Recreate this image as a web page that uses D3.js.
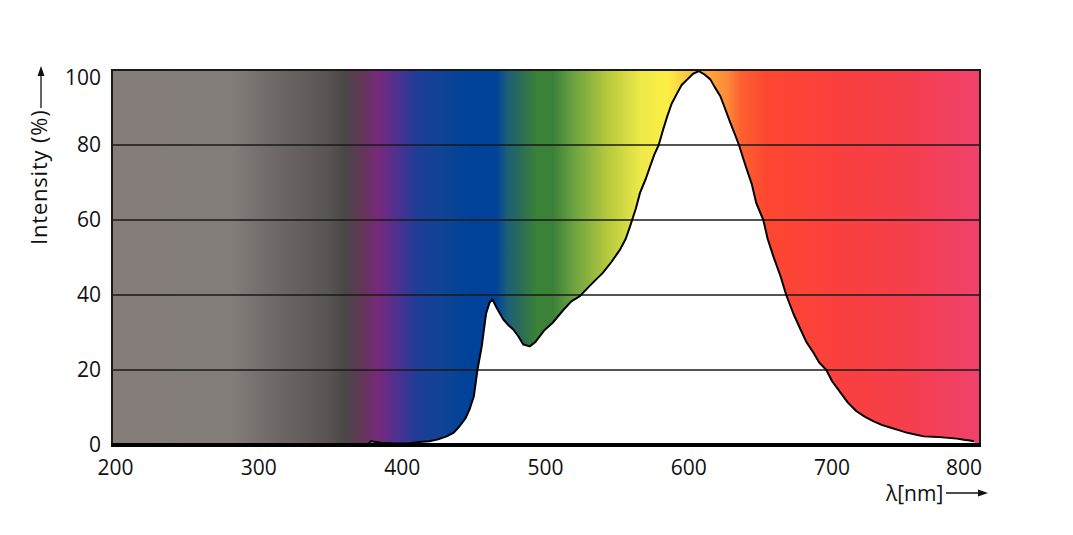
<!DOCTYPE html>
<html>
<head>
<meta charset="utf-8">
<script src="https://cdn.jsdelivr.net/npm/d3@7"></script>
<style>
  body { margin: 0; background: #fff; }
  svg text { font-family: 'Open Sans', sans-serif; fill: #111; }
</style>
</head>
<body>
<svg id="canvas" width="1073" height="535"></svg>
<script>
// spectrum (nm, % intensity)
const wavelengths = [376, 378, 385, 395, 405, 412, 419, 425, 431, 436, 440, 444, 447, 450, 452.5, 455.5, 458.5, 461, 463, 466, 470.5, 474, 477.5, 481, 484.5, 489, 493, 499, 505, 512, 518, 524, 531, 540, 546, 552, 556, 559, 563, 566, 570, 573, 576, 579, 582, 585, 588, 592, 595, 599, 603, 607, 611, 615, 618, 622, 625, 629, 632, 635, 640, 644, 647, 652, 655, 659, 664, 668, 673, 678, 682, 687, 691, 696, 700, 706, 711, 717, 723, 729, 735, 741, 747, 752, 758, 764, 770, 775, 781, 787, 792, 796, 799, 800];
const intensity = [0, 1.0, 0.6, 0.4, 0.5, 0.8, 1.0, 1.5, 2.3, 3.3, 5.0, 7.0, 9.5, 13, 20, 26.3, 35, 38, 38.8, 36.5, 33.5, 32, 30.8, 29, 26.8, 26.3, 27.5, 30.5, 32.6, 35.8, 38.3, 39.7, 42.5, 45.9, 48.8, 52.1, 55, 58.3, 63, 67.3, 71, 74.3, 77.5, 80, 84, 87.7, 91, 93.9, 96, 97.5, 99, 99.7, 98.8, 97.5, 95.5, 93, 90, 85.9, 83, 80, 74, 69.5, 64.6, 60, 55, 50.3, 45, 40, 35, 30.8, 27.5, 24.6, 22, 20, 17, 13.9, 11.3, 9, 7.5, 6.3, 5.3, 4.6, 3.9, 3.3, 2.8, 2.3, 2.2, 2.1, 1.9, 1.7, 1.4, 1.2, 1.0, 0];

const xTicks = [200, 300, 400, 500, 600, 700, 800];
const yTicks = [0, 20, 40, 60, 80, 100];

// colour band behind the curve
const stopNm = [198, 282, 312, 347, 361, 372, 384, 396, 410, 428, 447, 466, 473, 482, 494, 505, 519, 543, 566, 585, 601, 627, 636, 655, 705, 752, 800];
const stopColor = ['#857d7a', '#827d79', '#6e6866', '#5a5454', '#4b4646', '#633657', '#75297c', '#50308f', '#1f3d98', '#0f4396', '#00429a', '#01429a', '#1c5f79', '#2a6a5a', '#3a8236', '#3b8039', '#68a140', '#b5c83d', '#ece949', '#fcef45', '#fdc03f', '#fc8a38', '#fd6230', '#fd4630', '#f9403f', '#f53f4c', '#f0416a'];

const svg = d3.select('#canvas');

const plotLeft = 112, plotRight = 980, plotTop = 70, plotBottom = 445;

const x = d3.scaleLinear().domain([197.5, 803.2]).range([plotLeft, plotRight]);
const y = d3.scaleLinear().domain([0, 100]).range([plotBottom, plotTop]);

const grad = svg.append('defs').append('linearGradient')
    .attr('id', 'spectrum')
    .attr('gradientUnits', 'userSpaceOnUse')
    .attr('x1', plotLeft).attr('x2', plotRight)
    .attr('y1', 0).attr('y2', 0);

grad.selectAll('stop')
    .data(stopNm)
    .enter()
    .append('stop')
    .attr('offset', d => (x(d) - plotLeft) / (plotRight - plotLeft))
    .attr('stop-color', (d, i) => stopColor[i]);

svg.append('rect')
    .attr('x', plotLeft).attr('y', plotTop)
    .attr('width', plotRight - plotLeft).attr('height', plotBottom - plotTop)
    .attr('fill', 'url(#spectrum)');

const points = wavelengths.map((w, i) => [w, intensity[i]]);

// white area under the spectrum
svg.append('path')
    .datum(points)
    .attr('fill', '#fff')
    .attr('d', d3.area().x(d => x(d[0])).y0(y(0)).y1(d => y(d[1])));

// grid lines
svg.selectAll('.grid')
    .data(yTicks.filter(t => t > 0 && t < 100))
    .enter()
    .append('line')
    .attr('x1', plotLeft).attr('x2', plotRight)
    .attr('y1', d => y(d)).attr('y2', d => y(d))
    .attr('stroke', '#1a1a1a')
    .attr('stroke-width', 1.3);

svg.append('path')
    .datum(points.slice(0, points.length - 1))
    .attr('fill', 'none')
    .attr('stroke', '#000')
    .attr('stroke-width', 2)
    .attr('stroke-linejoin', 'round')
    .attr('d', d3.line().x(d => x(d[0])).y(d => y(d[1])));

// frame
svg.append('rect')
    .attr('x', plotLeft).attr('y', plotTop)
    .attr('width', plotRight - plotLeft).attr('height', plotBottom - plotTop)
    .attr('fill', 'none')
    .attr('stroke', '#1a1a1a')
    .attr('stroke-width', 2);

svg.append('line')
    .attr('x1', plotLeft - 1).attr('x2', plotRight + 1)
    .attr('y1', plotBottom).attr('y2', plotBottom)
    .attr('stroke', '#000')
    .attr('stroke-width', 4);

// tick labels (end labels pulled inside like the original)
svg.selectAll('.ylab')
    .data(yTicks)
    .enter()
    .append('text')
    .attr('x', 101)
    .attr('y', d => Math.max(y(d), 78))
    .attr('dy', '0.35em')
    .attr('text-anchor', 'end')
    .attr('font-size', 21)
    .text(d => d);

svg.selectAll('.xlab')
    .data(xTicks)
    .enter()
    .append('text')
    .attr('x', d => Math.min(x(d), 964))
    .attr('y', 475)
    .attr('text-anchor', 'middle')
    .attr('font-size', 21)
    .text(d => d);

// axis titles with arrows
svg.append('text')
    .attr('transform', 'translate(47,245) rotate(-90)')
    .attr('font-size', 22)
    .attr('letter-spacing', 0.8)
    .text('Intensity (%)');

svg.append('line')
    .attr('x1', 41).attr('x2', 41)
    .attr('y1', 108).attr('y2', 74)
    .attr('stroke', '#111').attr('stroke-width', 1.3);
svg.append('path')
    .attr('d', 'M41,66 L37.5,76 L44.5,76 Z')
    .attr('fill', '#111');

svg.append('text')
    .attr('x', 886)
    .attr('y', 501)
    .attr('font-size', 21)
    .text('λ[nm]');

svg.append('line')
    .attr('x1', 946).attr('x2', 980)
    .attr('y1', 493).attr('y2', 493)
    .attr('stroke', '#111').attr('stroke-width', 1.3);
svg.append('path')
    .attr('d', 'M988,493 L978,489.5 L978,496.5 Z')
    .attr('fill', '#111');
</script>
</body>
</html>
